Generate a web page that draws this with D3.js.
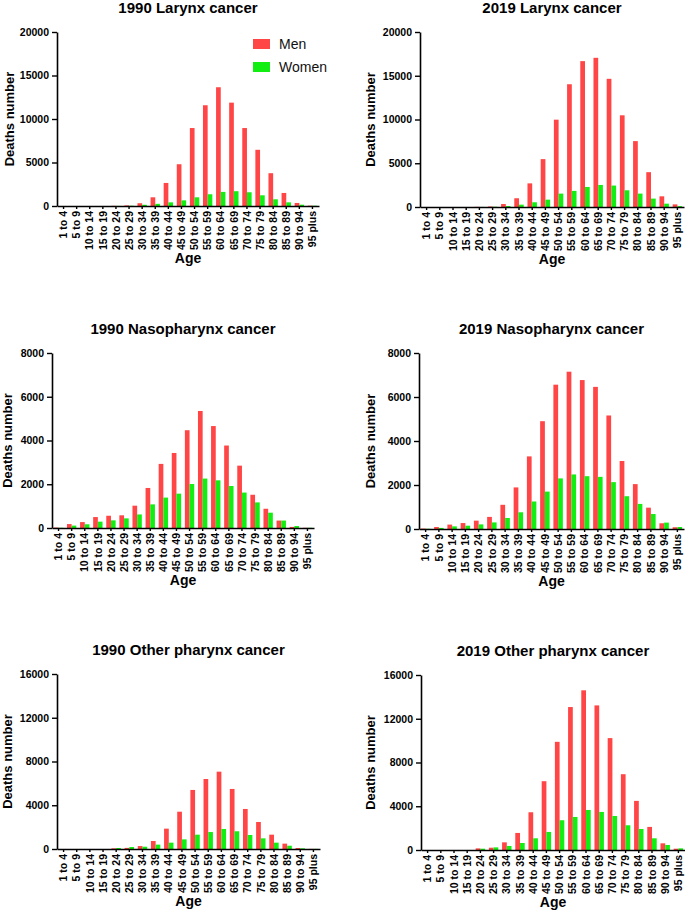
<!DOCTYPE html>
<html lang="en">

<head>
    <meta charset="UTF-8">
    <title>Deaths by age</title>
    <style>
        body {
            margin: 0;
            background: #fff;
        }

        svg text {
            font-family: Arial, "Liberation Sans", sans-serif;
        }
    </style>
</head>

<body>
    <svg id="chart"></svg>
</body>
<script src="https://d3js.org/d3.v7.min.js"></script>
<script>
    const ageGroups = ["1 to 4", "5 to 9", "10 to 14", "15 to 19", "20 to 24", "25 to 29", "30 to 34",
        "35 to 39", "40 to 44", "45 to 49", "50 to 54", "55 to 59", "60 to 64", "65 to 69",
        "70 to 74", "75 to 79", "80 to 84", "85 to 89", "90 to 94", "95 plus"];

    const larynx1990Men = [0, 0, 0, 0, 20, 70, 320, 1000, 2650, 4800, 8960, 11580, 13650, 11880, 8960, 6460, 3770, 1500, 350, 40];
    const larynx1990Women = [0, 0, 0, 0, 10, 30, 140, 250, 420, 650, 1000, 1350, 1620, 1700, 1580, 1230, 770, 420, 150, 30];

    const larynx2019Men = [0, 0, 0, 0, 20, 60, 340, 1000, 2700, 5470, 9980, 14030, 16670, 17050, 14650, 10480, 7530, 3980, 1220, 300];
    const larynx2019Women = [0, 0, 0, 0, 10, 30, 110, 270, 540, 840, 1530, 1840, 2290, 2520, 2450, 1910, 1530, 960, 380, 100];

    const naso1990Men = [20, 180, 270, 500, 560, 580, 1020, 1830, 2930, 3430, 4470, 5350, 4660, 3770, 2850, 1520, 880, 340, 50, 10];
    const naso1990Women = [10, 110, 170, 290, 350, 440, 620, 1080, 1390, 1570, 2010, 2260, 2180, 1920, 1620, 1170, 700, 340, 90, 10];

    const naso2019Men = [20, 90, 200, 270, 380, 550, 1100, 1890, 3300, 4900, 6560, 7150, 6770, 6460, 5160, 3090, 2040, 970, 260, 80];
    const naso2019Women = [10, 50, 120, 150, 210, 300, 500, 760, 1250, 1700, 2300, 2480, 2400, 2370, 2130, 1490, 1140, 680, 290, 90];

    const other1990Men = [0, 0, 0, 0, 60, 100, 270, 730, 1860, 3410, 5400, 6400, 7070, 5490, 3660, 2470, 1310, 490, 90, 10];
    const other1990Women = [0, 0, 0, 0, 90, 180, 210, 400, 580, 880, 1310, 1550, 1830, 1620, 1280, 975, 580, 300, 60, 10];

    const other2019Men = [0, 0, 0, 0, 150, 210, 700, 1560, 3450, 6290, 9890, 13070, 14600, 13220, 10230, 6930, 4490, 2110, 610, 120];
    const other2019Women = [0, 0, 0, 0, 120, 240, 370, 640, 1070, 1650, 2720, 3020, 3660, 3480, 3110, 2260, 1920, 1070, 460, 150];

    const larynxTicks = [0, 5000, 10000, 15000, 20000];
    const nasoTicks = [0, 2000, 4000, 6000, 8000];
    const otherTicks = [0, 4000, 8000, 12000, 16000];

    const seriesNames = ["Men", "Women"];
    const seriesColors = ["#ff4545", "#12ee12"];

    const width = 685;
    const height = 912;

    const svg = d3.select("#chart")
        .attr("width", width)
        .attr("height", height);

    // frame of each small chart: plot box and where the y label goes
    const panels = [
        { title: "1990 Larynx cancer", men: larynx1990Men, women: larynx1990Women, ticks: larynxTicks, left: 57, right: 319, top: 32, bottom: 206, labelX: 14, legend: true },
        { title: "2019 Larynx cancer", men: larynx2019Men, women: larynx2019Women, ticks: larynxTicks, left: 420, right: 684, top: 32, bottom: 207, labelX: 375 },
        { title: "1990 Nasopharynx cancer", men: naso1990Men, women: naso1990Women, ticks: nasoTicks, left: 52, right: 314, top: 353, bottom: 528, labelX: 12 },
        { title: "2019 Nasopharynx cancer", men: naso2019Men, women: naso2019Women, ticks: nasoTicks, left: 419, right: 684, top: 353, bottom: 529, labelX: 375 },
        { title: "1990 Other pharynx cancer", men: other1990Men, women: other1990Women, ticks: otherTicks, left: 57, right: 320, top: 674, bottom: 849, labelX: 12 },
        { title: "2019 Other pharynx cancer", men: other2019Men, women: other2019Women, ticks: otherTicks, left: 421, right: 685, top: 675, bottom: 850, labelX: 375 }
    ];

    drawPanel = (p) => {
        const g = svg.append("g");

        const x = d3.scaleBand()
            .domain(ageGroups)
            .range([p.left, p.right])
            .padding(0);

        const sub = d3.scaleBand()
            .domain(seriesNames)
            .range([0, x.bandwidth()])
            .paddingInner(0)
            .paddingOuter(0.4);

        const y = d3.scaleLinear()
            .domain([0, d3.max(p.ticks)])
            .range([p.bottom, p.top]);

        const rows = ageGroups.map((age, i) => ({ age: age, values: [p.men[i], p.women[i]] }));

        g.append("g")
            .selectAll("g")
            .data(rows)
            .join("g")
            .attr("transform", d => `translate(${x(d.age)},0)`)
            .selectAll("rect")
            .data(d => d.values.map((v, k) => ({ key: seriesNames[k], value: v, color: seriesColors[k] })))
            .join("rect")
            .attr("x", d => sub(d.key))
            .attr("width", sub.bandwidth())
            .attr("y", d => y(d.value))
            .attr("height", d => p.bottom - y(d.value))
            .attr("fill", d => d.color);

        const yAxis = g.append("g")
            .attr("transform", `translate(${p.left},0)`)
            .call(d3.axisLeft(y).tickValues(p.ticks).tickFormat(d3.format("d")).tickSize(5).tickSizeOuter(0).tickPadding(3));

        const xAxis = g.append("g")
            .attr("transform", `translate(0,${p.bottom})`)
            .call(d3.axisBottom(x).tickSize(3).tickSizeOuter(0));

        [yAxis, xAxis].forEach(ax => {
            ax.select(".domain").attr("stroke", "#000").attr("stroke-width", 1.6);
            ax.selectAll(".tick line").attr("stroke", "#000").attr("stroke-width", 1.4);
            ax.selectAll("text")
                .attr("fill", "#000")
                .style("font-size", "10.5px")
                .style("font-weight", "bold");
        });

        xAxis.selectAll("text")
            .attr("transform", "rotate(-90)")
            .attr("x", -5)
            .attr("y", 0)
            .attr("dy", "0.35em")
            .style("font-size", "10.5px")
            .style("text-anchor", "end");

        const cx = (p.left + p.right) / 2;

        g.append("text")
            .attr("x", cx)
            .attr("y", p.top - 19)
            .attr("text-anchor", "middle")
            .style("font-size", "15px")
            .style("font-weight", "bold")
            .text(p.title);

        g.append("text")
            .attr("x", cx)
            .attr("y", p.bottom + 57)
            .attr("text-anchor", "middle")
            .style("font-size", "14px")
            .style("font-weight", "bold")
            .text("Age");

        g.append("text")
            .attr("transform", `translate(${p.labelX},${(p.top + p.bottom) / 2}) rotate(-90)`)
            .attr("text-anchor", "middle")
            .style("font-size", "13px")
            .style("font-weight", "bold")
            .text("Deaths number");

        if (p.legend) {
            const legend = g.append("g")
                .selectAll("g")
                .data(seriesNames)
                .join("g")
                .attr("transform", (d, i) => `translate(253,${39 + i * 23})`);

            legend.append("rect")
                .attr("width", 17)
                .attr("height", 10)
                .attr("fill", (d, i) => seriesColors[i]);

            legend.append("text")
                .attr("x", 26)
                .attr("y", 10)
                .style("font-size", "14px")
                .attr("fill", "#111")
                .text(d => d);
        }
    }

    panels.forEach(drawPanel);
</script>

</html>
